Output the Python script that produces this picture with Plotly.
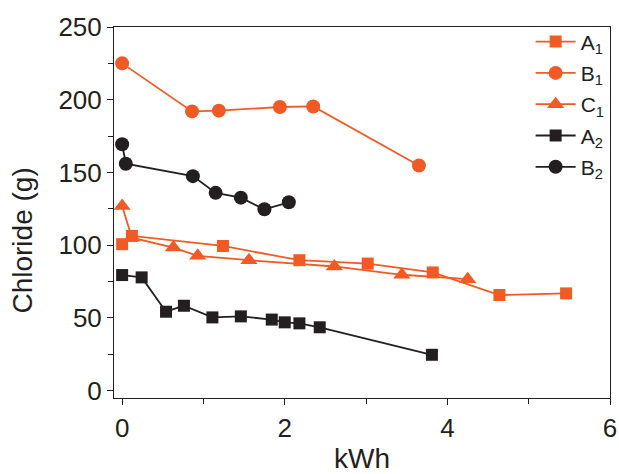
import plotly.graph_objects as go

ORANGE = "#F15A24"
BLACK = "#231F20"

a1_x = [0.0, 0.12, 1.24, 2.18, 3.02, 3.82, 4.64, 5.46]
a1_y = [100.7, 106.4, 99.5, 89.7, 87.4, 81.3, 65.8, 66.9]

b1_x = [0.0, 0.86, 1.19, 1.94, 2.35, 3.65]
b1_y = [225.0, 192.0, 192.5, 195.0, 195.4, 154.8]

c1_x = [0.0, 0.12, 0.63, 0.93, 1.56, 2.61, 3.44, 4.25]
c1_y = [126.9, 105.2, 98.4, 92.7, 89.7, 85.4, 79.7, 76.7]

a2_x = [0.0, 0.24, 0.54, 0.76, 1.11, 1.46, 1.84, 2.0, 2.18, 2.43, 3.81]
a2_y = [79.5, 77.9, 54.3, 58.4, 50.4, 51.1, 48.9, 47.0, 46.3, 43.6, 24.7]

b2_x = [0.0, 0.045, 0.87, 1.15, 1.46, 1.75, 2.05]
b2_y = [169.4, 156.0, 147.5, 136.0, 132.7, 124.7, 129.5]

series = [
    ("A<sub>1</sub>", a1_x, a1_y, ORANGE, "square", 12),
    ("B<sub>1</sub>", b1_x, b1_y, ORANGE, "circle", 14),
    ("C<sub>1</sub>", c1_x, c1_y, ORANGE, "triangle-up", 15),
    ("A<sub>2</sub>", a2_x, a2_y, BLACK, "square", 12),
    ("B<sub>2</sub>", b2_x, b2_y, BLACK, "circle", 14),
]

fig = go.Figure()
for i, (name, xs, ys, col, sym, sz) in enumerate(series):
    fig.add_trace(go.Scatter(
        x=xs, y=ys, name=name, mode="lines+markers", legendgroup=f"g{i}",
        line=dict(color=col, width=1.8),
        marker=dict(color=col, symbol=sym, size=sz, line=dict(width=0)),
    ))

FONT = "Liberation Sans, Arial, sans-serif"
fig.update_layout(
    width=619, height=474,
    margin=dict(l=114, r=9, t=27, b=76, autoexpand=False),
    paper_bgcolor="white", plot_bgcolor="white",
    font=dict(family=FONT, color="#231F20", size=26),
    showlegend=True,
    legend=dict(
        x=0.84, y=1.015, xanchor="left", yanchor="top",
        bgcolor="rgba(0,0,0,0)", borderwidth=0,
        font=dict(size=21, family=FONT, color="#231F20"),
        itemwidth=40, tracegroupgap=1,
    ),
    xaxis=dict(
        range=[-0.1, 6], tickvals=[0, 2, 4, 6], ticks="outside", ticklen=6,
        tickwidth=1, tickcolor="#231F20", automargin=False,
        minor=dict(tickvals=[1, 3, 5], ticks="outside", ticklen=5, tickcolor="#231F20"),
        showline=True, linecolor="#231F20", linewidth=1, mirror=True,
        showgrid=False, zeroline=False, ticklabelstandoff=1,
        title=dict(text="kWh", font=dict(size=28), standoff=13),
        tickfont=dict(size=26),
    ),
    yaxis=dict(
        range=[-5, 250], tickvals=[0, 50, 100, 150, 200, 250], ticks="outside", ticklen=6,
        tickwidth=1, tickcolor="#231F20", automargin=False,
        minor=dict(tickvals=[25, 75, 125, 175, 225], ticks="outside", ticklen=5, tickcolor="#231F20"),
        showline=True, linecolor="#231F20", linewidth=1, mirror=True,
        showgrid=False, zeroline=False,
        tickfont=dict(size=26),
    ),
    annotations=[dict(
        text="Chloride (g)", textangle=-90, showarrow=False,
        xref="paper", yref="paper", x=-0.185, y=0.425,
        xanchor="center", yanchor="middle",
        font=dict(size=28, family=FONT, color="#231F20"),
    )],
)

fig.write_html("out.html")
